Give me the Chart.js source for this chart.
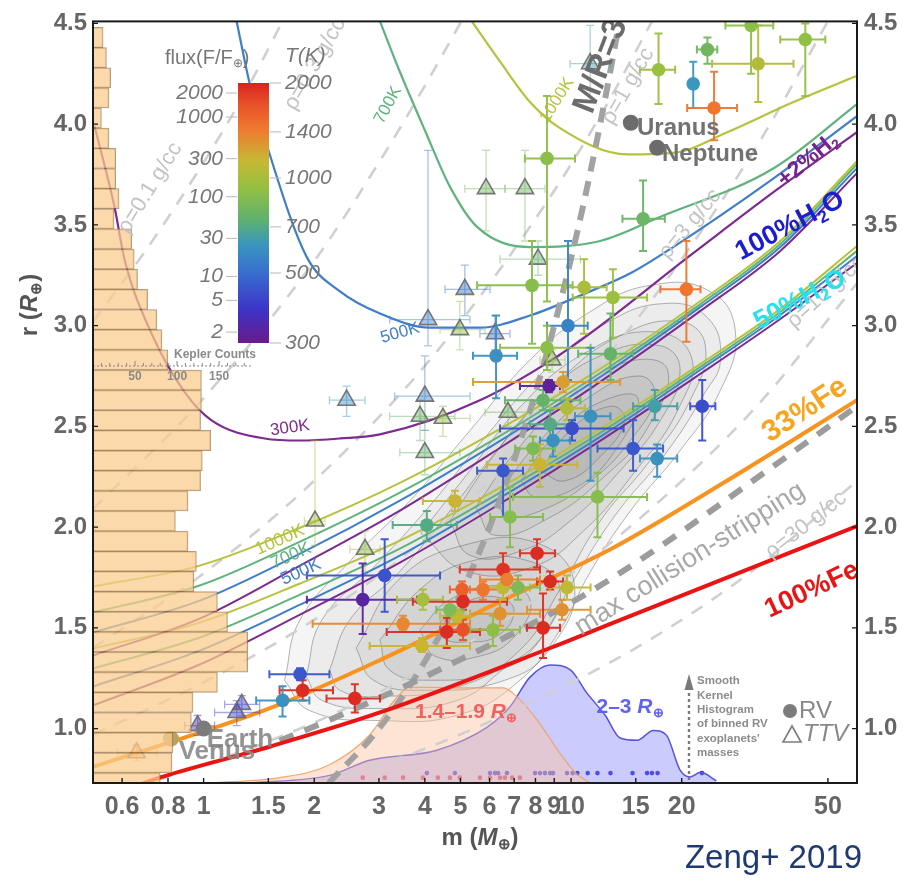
<!DOCTYPE html>
<html>
<head>
<meta charset="utf-8">
<title>Zeng+ 2019 mass-radius diagram</title>
<script src="https://cdn.jsdelivr.net/npm/chart.js@4.4.1/dist/chart.umd.min.js"></script>
<style>
  html, body { margin: 0; padding: 0; background: #fff; }
  canvas { display: block; }
</style>
</head>
<body>
<canvas id="mr" width="903" height="884"></canvas>
<script>
// ---- axes ----
const massTicks = [0.6, 0.8, 1, 1.5, 2, 3, 4, 5, 6, 7, 8, 9, 10, 15, 20, 50];
const radiusTicks = [1.0, 1.5, 2.0, 2.5, 3.0, 3.5, 4.0, 4.5];

// ---- Kepler radius histogram ----
const keplerBinR = [4.43, 4.33, 4.23, 4.13, 4.03, 3.93, 3.83, 3.73, 3.63, 3.53, 3.43, 3.33, 3.23, 3.13, 3.03, 2.93, 2.83, 2.73, 2.63, 2.53, 2.43, 2.33, 2.23, 2.13, 2.03, 1.93, 1.83, 1.73, 1.63, 1.53, 1.43, 1.33, 1.23, 1.13, 1.03, 0.93, 0.83, 0.73];
const keplerCounts = [12, 16, 21, 19, 10, 19, 27, 27, 31, 25, 46, 49, 53, 65, 76, 82, 89, 129, 129, 128, 140, 130, 128, 113, 98, 113, 123, 120, 148, 160, 184, 184, 148, 119, 117, 95, 94, 80];

// ---- rocky / iron curves, [mass, radius] ----
const fe100 = [[0.62, 0.70], [0.77, 0.76], [1.51, 0.91], [3.02, 1.08], [8.77, 1.40], [12.8, 1.52], [60, 2.005]];
const fe33 = [[0.5, 0.81], [1.51, 1.10], [3.02, 1.34], [6.41, 1.63], [12.8, 1.89], [27.1, 2.24], [60, 2.63]];
const stripping = [[1.61, 0.94], [2.25, 1.05], [4.13, 1.27], [10.8, 1.66], [18.0, 1.92], [30.7, 2.22], [60, 2.60]];
const massOverRadius3 = [[2.19, 0.73], [3, 1.0], [4, 1.333], [5, 1.667], [6, 2.0], [7.5, 2.5], [9, 3.0], [10.5, 3.5], [12, 4.0], [13.5, 4.5], [13.7, 4.57]];

// ---- constant density lines ----
const rho01 = [[0.5, 3.02], [0.7, 3.38], [1, 3.81], [1.3, 4.16], [1.65, 4.52]];
const rho03 = [[0.5, 2.09], [1, 2.64], [2, 3.32], [3, 3.81], [4, 4.19], [5.1, 4.53]];
const rho1 = [[0.5, 1.40], [1, 1.77], [2, 2.23], [4, 2.80], [8, 3.53], [12, 4.04], [16.6, 4.51]];
const rho3 = [[0.5, 0.97], [1, 1.23], [2, 1.54], [4, 1.94], [8, 2.45], [16, 3.09], [32, 3.89], [50, 4.51]];
const rho10 = [[0.75, 0.745], [1, 0.82], [2, 1.03], [4, 1.30], [8, 1.64], [16, 2.07], [32, 2.60], [60, 3.21]];
const rho30 = [[2.1, 0.73], [4, 0.90], [8, 1.14], [16, 1.43], [32, 1.80], [60, 2.23]];

// ---- H2 envelope curves (upper U shapes) ----
const env300 = [[0.505, 3.99], [0.572, 3.59], [0.609, 3.33], [0.722, 2.96], [0.888, 2.67], [1.051, 2.53], [1.466, 2.44], [1.83, 2.43], [2.35, 2.44], [3.02, 2.46], [5.65, 2.63], [9.75, 2.88], [21.5, 3.36], [36, 3.67], [60, 3.96]];
const env500 = [[1.23, 4.51], [1.335, 4.20], [1.513, 3.85], [1.909, 3.34], [2.35, 3.17], [3.02, 3.06], [4.13, 2.99], [5.65, 2.99], [7.73, 3.05], [10.6, 3.15], [14.5, 3.26], [18.96, 3.39], [35.5, 3.73], [60, 4.04]];
const env700 = [[3.02, 4.51], [3.42, 4.26], [4.0, 3.97], [4.68, 3.69], [5.55, 3.49], [7.73, 3.39], [12.0, 3.42], [17.5, 3.54], [35.5, 3.78], [60, 4.10]];
const env1000 = [[5.37, 4.51], [6.41, 4.31], [7.73, 4.11], [9.33, 3.98], [14.2, 3.85], [19.45, 3.86], [26.6, 3.96], [40.3, 4.11], [60, 4.24]];

// ---- water worlds ----
const h2oMass = [0.5, 0.975, 1.83, 3.42, 6.41, 12.0, 22.5, 37.1, 60];
const w100at1000 = [1.705, 1.809, 1.997, 2.220, 2.488, 2.785, 3.122, 3.420, 3.816];
const w100at700 = [1.576, 1.710, 1.928, 2.171, 2.453, 2.765, 3.107, 3.405, 3.801];
const w100at500 = [1.477, 1.635, 1.868, 2.131, 2.428, 2.745, 3.093, 3.390, 3.782];
const w100at300 = [1.363, 1.546, 1.809, 2.082, 2.394, 2.721, 3.073, 3.371, 3.757];
const w50at1000 = [1.397, 1.526, 1.720, 1.933, 2.196, 2.488, 2.810, 3.083, 3.395];
const w50at700 = [1.298, 1.452, 1.665, 1.893, 2.171, 2.468, 2.795, 3.068, 3.371];
const w50at500 = [1.209, 1.387, 1.615, 1.858, 2.146, 2.448, 2.781, 3.053, 3.346];
const w50at300 = [1.115, 1.318, 1.566, 1.824, 2.116, 2.428, 2.761, 3.033, 3.311];

// ---- kernel density contours of the planets (closed loops, outer to inner) ----
const contours = [
  [[1.66, 1.24], [1.83, 1.54], [2.50, 1.83], [3.64, 2.13], [5.31, 2.48], [7.73, 2.83], [11.3, 3.07], [16.4, 3.20], [23.9, 3.17], [28.0, 2.97], [25.5, 2.68], [19.8, 2.38], [14.5, 2.08], [11.3, 1.78], [9.33, 1.49], [7.26, 1.24], [4.98, 1.07], [3.02, 1.04], [1.94, 1.09], [1.66, 1.24]],
  [[1.9, 1.26], [2.1, 1.54], [2.9, 1.80], [4.1, 2.10], [5.8, 2.44], [8.5, 2.78], [12.4, 3.01], [18.0, 3.11], [23.5, 3.04], [25.5, 2.83], [23.0, 2.66], [18.0, 2.36], [13.2, 2.06], [10.2, 1.74], [8.2, 1.44], [6.7, 1.31], [4.9, 1.14], [3.0, 1.10], [2.1, 1.14], [1.9, 1.26]],
  [[2.20, 1.29], [2.50, 1.54], [3.42, 1.78], [4.68, 2.08], [6.41, 2.40], [9.33, 2.73], [13.6, 2.95], [19.8, 3.02], [23.2, 2.90], [21.1, 2.63], [16.4, 2.33], [12.0, 2.03], [9.33, 1.69], [7.26, 1.39], [4.98, 1.21], [3.02, 1.16], [2.35, 1.19], [2.20, 1.29]],
  [[3.9, 1.97], [5.2, 2.26], [7.3, 2.60], [10.8, 2.86], [16.5, 2.97], [21.2, 2.85], [19.5, 2.58], [15.0, 2.28], [10.8, 1.98], [7.8, 1.80], [5.2, 1.78], [3.9, 1.97]],
  [[4.68, 2.03], [6.02, 2.33], [8.23, 2.63], [12.0, 2.85], [17.5, 2.90], [19.8, 2.78], [17.5, 2.53], [13.6, 2.28], [9.94, 2.03], [7.26, 1.88], [5.31, 1.86], [4.68, 2.03]],
  [[5.5, 2.10], [7.1, 2.38], [9.8, 2.64], [14.2, 2.82], [18.3, 2.78], [16.0, 2.48], [12.3, 2.25], [8.8, 2.05], [6.2, 1.96], [5.5, 2.10]],
  [[6.41, 2.18], [8.23, 2.43], [11.3, 2.65], [15.4, 2.75], [16.9, 2.65], [14.5, 2.43], [11.3, 2.23], [8.23, 2.08], [6.61, 2.06], [6.41, 2.18]],
  [[7.3, 2.23], [9.0, 2.45], [12.0, 2.62], [15.2, 2.64], [13.3, 2.39], [10.4, 2.20], [8.0, 2.15], [7.3, 2.23]],
  [[8.23, 2.28], [9.94, 2.48], [12.8, 2.60], [14.0, 2.53], [12.0, 2.35], [9.63, 2.23], [8.23, 2.28]],
  [[2.6, 1.40], [3.4, 1.74], [5.1, 1.91], [8.1, 1.92], [10.2, 1.72], [8.8, 1.40], [6.6, 1.24], [4.0, 1.19], [2.9, 1.24], [2.6, 1.40]],
  [[3.02, 1.44], [3.88, 1.69], [5.31, 1.83], [7.73, 1.83], [9.33, 1.69], [8.23, 1.44], [6.41, 1.29], [4.13, 1.24], [3.21, 1.29], [3.02, 1.44]],
  [[3.88, 1.49], [4.68, 1.64], [6.41, 1.71], [7.73, 1.64], [7.04, 1.46], [5.65, 1.36], [4.26, 1.36], [3.88, 1.49]],
  [[4.4, 1.53], [5.2, 1.63], [6.4, 1.65], [7.0, 1.58], [6.3, 1.46], [5.2, 1.43], [4.5, 1.45], [4.4, 1.53]]
];

// ---- smooth kernel histograms of RV masses ----
const kdeSmallM = [1.04, 1.61, 2.20, 2.83, 3.31, 3.64, 4.98, 6.53, 6.95, 8.08, 9.33, 10.25, 11.27];
const kdeSmallD = [0, 0.007, 0.024, 0.063, 0.109, 0.126, 0.125, 0.125, 0.118, 0.083, 0.039, 0.014, 0];
const kdeLargeM = [1.34, 2.20, 2.83, 4.31, 5.90, 6.82, 7.73, 8.77, 9.94, 11.05, 12.38, 13.6, 15.13, 16.73, 18.16, 19.8, 21.1, 22.5, 24.85];
const kdeLargeD = [0, 0.010, 0.030, 0.043, 0.073, 0.100, 0.139, 0.155, 0.149, 0.118, 0.089, 0.059, 0.056, 0.069, 0.063, 0.017, 0.008, 0.014, 0.003];
const rugSmallM = [2.71, 3.11, 3.49, 3.95, 4.34, 4.68, 4.98, 5.65, 6.02, 6.41, 6.61, 6.91, 7.26];
const rugLargeM = [4.05, 4.83, 6.02, 6.21, 6.33, 6.69, 7.98, 8.23, 8.49, 8.77, 8.93, 9.75, 10.1, 10.4, 11.1, 11.8, 12.8, 14.7, 16.1, 16.6, 17.2, 22.7];

// ---- RV planets ----
const rvMass = [17.3, 23.5, 21.5, 24.5, 30.9, 32.3, 43.4, 8.60, 15.7, 7.83, 10.85, 13.0, 9.81, 6.25, 8.60, 12.8, 20.6, 8.71, 9.51, 8.39, 9.75, 11.3, 10.06, 8.77, 8.93, 7.88, 8.23, 6.53, 14.75, 16.9, 17.15, 22.75, 11.8, 6.82, 4.83, 4.05, 3.11, 2.71, 3.49, 3.95, 5.05, 5.76, 6.53, 8.08, 5.08, 4.59, 5.08, 6.13, 6.41, 6.53, 7.17, 8.77, 9.75, 9.45, 8.39, 3.93, 6.69, 1.83, 1.86, 1.64, 2.58, 4.89, 4.68];
const rvRadius = [4.27, 4.37, 4.20, 4.08, 4.49, 4.30, 4.42, 3.83, 3.53, 3.20, 3.19, 3.14, 3.00, 2.85, 2.89, 2.86, 3.18, 2.70, 2.72, 2.63, 2.59, 2.55, 2.49, 2.51, 2.43, 2.39, 2.31, 2.28, 2.39, 2.60, 2.34, 2.60, 2.15, 2.05, 2.13, 2.01, 1.76, 1.64, 1.52, 1.64, 1.69, 1.69, 1.79, 1.87, 1.63, 1.48, 1.49, 1.49, 1.57, 1.70, 1.70, 1.73, 1.70, 1.59, 1.50, 1.41, 1.74, 1.27, 1.19, 1.14, 1.15, 1.56, 1.59];
const rvMassLo = [15.4, 22.0, 20.9, 20.7, 26.3, 24.2, 37.1, 7.49, 13.8, 5.55, 9.63, 10.1, 8.60, 5.41, 6.41, 10.45, 17.5, 7.26, 5.41, 6.61, 8.77, 10.25, 6.41, 7.73, 8.23, 7.04, 5.90, 5.55, 11.8, 14.75, 15.4, 21.1, 6.95, 6.02, 3.95, 3.27, 1.91, 1.91, 1.98, 3.36, 4.68, 5.31, 4.98, 7.26, 3.71, 3.15, 4.40, 5.31, 5.31, 5.65, 6.41, 8.08, 8.77, 7.59, 7.59, 2.83, 5.65, 1.51, 1.61, 1.39, 2.16, 4.40, 4.30];
const rvMassHi = [19.2, 25.0, 22.0, 28.3, 35.5, 40.3, 49.2, 10.25, 18.0, 10.1, 12.5, 16.1, 11.1, 7.13, 11.3, 14.75, 22.5, 9.33, 13.6, 10.6, 10.9, 12.8, 13.9, 9.94, 9.94, 9.04, 10.4, 7.40, 17.8, 19.45, 19.45, 24.7, 16.1, 8.39, 5.65, 4.89, 4.40, 3.81, 5.31, 4.48, 5.65, 6.41, 8.23, 9.04, 6.69, 5.65, 6.02, 7.26, 8.23, 7.73, 8.23, 9.51, 11.3, 11.3, 9.33, 5.31, 8.23, 2.20, 2.25, 1.94, 3.02, 5.31, 5.10];
const rvRadiusLo = [4.10, 4.30, 4.08, 3.92, 4.25, 4.11, 4.14, 3.12, 3.37, 2.91, 2.96, 2.94, 2.73, 2.64, 2.78, 2.73, 2.92, 2.67, 2.67, 2.58, 2.53, 2.23, 2.43, 2.43, 2.35, 2.33, 2.20, 2.05, 2.28, 2.53, 2.25, 2.43, 1.95, 1.90, 2.08, 1.93, 1.58, 1.47, 1.49, 1.59, 1.64, 1.64, 1.71, 1.80, 1.59, 1.40, 1.44, 1.41, 1.51, 1.64, 1.64, 1.69, 1.64, 1.54, 1.35, 1.38, 1.70, 1.24, 1.14, 1.06, 1.08, 1.53, 1.56];
const rvRadiusHi = [4.45, 4.43, 4.31, 4.26, 4.60, 4.49, 4.50, 4.14, 3.72, 3.42, 3.33, 3.28, 3.42, 3.05, 3.00, 3.06, 3.42, 2.73, 2.77, 2.68, 2.64, 2.89, 2.53, 2.58, 2.50, 2.45, 2.41, 2.34, 2.53, 2.68, 2.41, 2.73, 2.27, 2.20, 2.18, 2.08, 1.94, 1.82, 1.56, 1.69, 1.73, 1.73, 1.87, 1.94, 1.66, 1.55, 1.54, 1.56, 1.64, 1.76, 1.76, 1.78, 1.76, 1.64, 1.67, 1.45, 1.78, 1.30, 1.24, 1.21, 1.22, 1.59, 1.61];
const rvTeq = [950, 800, 620, 1450, 900, 1050, 920, 900, 780, 880, 1020, 960, 560, 600, 900, 760, 1450, 320, 1250, 760, 1050, 600, 430, 700, 600, 850, 1150, 450, 450, 650, 600, 430, 880, 880, 1150, 700, 440, 330, 1350, 1000, 1600, 1450, 1900, 1950, 1950, 1950, 1700, 900, 1300, 1100, 850, 1950, 1100, 1300, 1950, 1150, 1400, 450, 1950, 600, 1950, 1100, 850];

// ---- TTV planets ----
const ttvMass = [11.27, 5.87, 7.49, 8.13, 5.14, 4.08, 4.98, 6.21, 4.00, 3.88, 4.48, 4.00, 6.73, 8.88, 2.45, 2.01, 2.75, 0.963, 1.23, 1.27, 0.657];
const ttvRadius = [4.30, 3.68, 3.68, 3.33, 3.18, 3.03, 2.98, 2.96, 2.65, 2.55, 2.54, 2.37, 2.57, 2.83, 2.63, 2.03, 1.89, 1.015, 1.08, 1.12, 0.88];
const ttvMassLo = [9.94, 5.14, 6.61, 6.41, 4.54, 3.21, 4.40, 5.65, 3.31, 3.21, 3.88, 3.42, 5.83, 8.23, 2.20, 1.88, 2.50, 0.888, 1.071, 1.141, 0.583];
const ttvMassHi = [12.78, 6.61, 8.49, 10.6, 6.02, 5.31, 5.83, 6.82, 5.31, 4.83, 5.31, 4.98, 7.73, 9.63, 2.75, 2.14, 3.02, 1.071, 1.421, 1.421, 0.745];
const ttvRadiusLo = [4.11, 3.47, 3.42, 3.25, 3.05, 2.90, 2.88, 2.88, 2.48, 2.43, 2.45, 2.26, 2.50, 2.77, 2.55, 1.91, 1.78, 0.966, 1.015, 1.065, 0.84];
const ttvRadiusHi = [4.49, 3.87, 3.87, 3.42, 3.30, 3.87, 3.12, 3.05, 2.85, 2.63, 2.60, 2.48, 2.63, 2.88, 2.70, 2.43, 1.98, 1.065, 1.139, 1.164, 0.92];
const ttvTeq = [650, 800, 800, 750, 500, 550, 900, 480, 550, 750, 900, 750, 800, 900, 600, 1000, 900, 350, 400, 400, 1300];

// ---- solar system ----
const solarNames = ['Venus', 'Earth', 'Uranus', 'Neptune'];
const solarMass = [0.815, 1.0, 14.54, 17.15];
const solarRadius = [0.95, 1.0, 4.007, 3.883];

// ---- colour bar legend ----
const fluxTicks = [2000, 1000, 300, 100, 30, 10, 5, 2];
const tempTicks = [300, 500, 700, 1000, 1400, 2000];

const FONT = "'Liberation Sans', Arial, Helvetica, sans-serif";
Chart.defaults.font.family = FONT;

const cmap = [
  [0.00, [106, 26, 138]], [0.13, [60, 52, 200]], [0.27, [56, 110, 205]], [0.38, [58, 150, 190]],
  [0.47, [92, 177, 112]], [0.60, [150, 192, 66]], [0.70, [198, 184, 52]], [0.82, [239, 122, 48]],
  [0.92, [232, 80, 40]], [1.00, [217, 35, 31]]
];
function rgbAt(f) {
  f = Math.max(0, Math.min(1, f));
  for (let i = 1; i < cmap.length; i++) {
    if (f <= cmap[i][0]) {
      const [f0, c0] = cmap[i - 1], [f1, c1] = cmap[i];
      const t = (f - f0) / (f1 - f0);
      return c0.map((v, k) => Math.round(v + (c1[k] - v) * t));
    }
  }
  return cmap[cmap.length - 1][1];
}
function tempColor(T, a) {
  const c = rgbAt(Math.log(T / 300) / Math.log(2000 / 300));
  return `rgba(${c[0]},${c[1]},${c[2]},${a === undefined ? 1 : a})`;
}

const pairs = arr => arr.map(p => ({x: p[0], y: p[1]}));
const zip = (ms, rs) => ms.map((m, i) => ({x: m, y: rs[i]}));

function curve(data, color, width, extra) {
  return Object.assign({
    type: 'line', data, borderColor: color, borderWidth: width, pointRadius: 0,
    fill: false, showLine: true, cubicInterpolationMode: 'monotone', order: 5
  }, extra || {});
}

const C300 = '#7d2b8f', C500 = '#3f7fca', C700 = '#5fb37c', C1000 = '#b7c23d';
const densityStyle = {borderDash: [13, 11], order: 7};

const datasets = [];

// contours
contours.forEach(c => datasets.push(curve(pairs(c), 'rgba(85,85,85,0.55)', 0.8, {
  fill: 'shape', backgroundColor: 'rgba(110,110,110,0.065)', cubicInterpolationMode: 'default', tension: 0.45, order: 9
})));

// density lines
[rho01, rho03, rho1, rho3, rho10, rho30].forEach(d => datasets.push(curve(pairs(d), '#d0d0d0', 2.6, densityStyle)));

// kernel histograms + rug
datasets.push(curve(zip(kdeSmallM, kdeSmallD), 'rgba(240,160,100,0.9)', 1.2, {yAxisID: 'yk', fill: 'origin', backgroundColor: 'rgba(252,196,160,0.45)', order: 8}));
datasets.push(curve(zip(kdeLargeM, kdeLargeD), '#5555e0', 1.5, {yAxisID: 'yk', fill: 'origin', backgroundColor: 'rgba(130,130,250,0.42)', order: 8}));
datasets.push({type: 'scatter', yAxisID: 'yk', data: rugSmallM.map(m => ({x: m, y: 0.007})), pointRadius: 2.3, backgroundColor: '#e83030', borderWidth: 0, order: 8});
datasets.push({type: 'scatter', yAxisID: 'yk', data: rugLargeM.map(m => ({x: m, y: 0.013})), pointRadius: 2.3, backgroundColor: '#2828e0', borderWidth: 0, order: 8});

// water worlds
[[w100at1000, C1000], [w100at700, C700], [w100at500, C500], [w100at300, C300],
 [w50at1000, C1000], [w50at700, C700], [w50at500, C500], [w50at300, C300]]
  .forEach(([r, c]) => datasets.push(curve(zip(h2oMass, r), c, 2)));

// envelopes
datasets.push(curve(pairs(env300), C300, 2.2));
datasets.push(curve(pairs(env500), C500, 2.2));
datasets.push(curve(pairs(env700), C700, 2.2));
datasets.push(curve(pairs(env1000), C1000, 2.2));

// iron / rock
datasets.push(curve(pairs(fe33), '#f7931e', 4, {order: 4}));
datasets.push(curve(pairs(fe100), '#ea1414', 4, {order: 4}));
datasets.push(curve(pairs(stripping), '#9c9c9c', 6, {borderDash: [15, 12], order: 4}));
datasets.push(curve(pairs(massOverRadius3), '#a2a2a2', 6, {borderDash: [15, 10], order: 4}));

// TTV
datasets.push({
  type: 'scatter', data: zip(ttvMass, ttvRadius), pointStyle: 'triangle', pointRadius: 10,
  backgroundColor: ttvTeq.map(t => tempColor(t, 0.45)), borderColor: 'rgba(105,105,105,0.9)', borderWidth: 1.6,
  errors: {lo: ttvMassLo, hi: ttvMassHi, rlo: ttvRadiusLo, rhi: ttvRadiusHi, t: ttvTeq, a: 0.45, w: 1.3}, order: 3
});
// RV
datasets.push({
  type: 'scatter', data: zip(rvMass, rvRadius), pointRadius: 6.8,
  backgroundColor: rvTeq.map(t => tempColor(t, 1)), borderWidth: 0,
  errors: {lo: rvMassLo, hi: rvMassHi, rlo: rvRadiusLo, rhi: rvRadiusHi, t: rvTeq, a: 0.95, w: 2}, order: 2
});
// solar system
datasets.push({
  type: 'scatter', data: zip(solarMass, solarRadius), pointRadius: 8,
  backgroundColor: ['#b9a162', '#7b7b7b', '#6c6c6c', '#6c6c6c'], borderWidth: 0, order: 1
});
// Kepler histogram
datasets.push({
  type: 'bar', indexAxis: 'y', xAxisID: 'xc', yAxisID: 'y',
  data: keplerBinR.map((r, i) => ({x: keplerCounts[i], y: r})),
  backgroundColor: 'rgba(251,204,140,0.74)', borderColor: 'rgba(140,105,60,0.65)', borderWidth: 1,
  barPercentage: 1, categoryPercentage: 1, grouped: false, order: 0
});

// ---- plugins ----
const errorBars = {
  id: 'errorBars',
  beforeDatasetDraw(chart, args) {
    const ds = chart.data.datasets[args.index];
    if (!ds.errors) return;
    const e = ds.errors, x = chart.scales.x, y = chart.scales.y, ctx = chart.ctx, a = chart.chartArea;
    ctx.save();
    ctx.beginPath(); ctx.rect(a.left, a.top, a.right - a.left, a.bottom - a.top); ctx.clip();
    ctx.lineWidth = e.w;
    ds.data.forEach((p, i) => {
      const px = x.getPixelForValue(p.x), py = y.getPixelForValue(p.y);
      const x0 = x.getPixelForValue(e.lo[i]), x1 = x.getPixelForValue(e.hi[i]);
      const y0 = y.getPixelForValue(e.rlo[i]), y1 = y.getPixelForValue(e.rhi[i]);
      ctx.strokeStyle = tempColor(e.t[i], e.a);
      const cap = 4;
      ctx.beginPath();
      ctx.moveTo(x0, py); ctx.lineTo(x1, py);
      ctx.moveTo(px, y0); ctx.lineTo(px, y1);
      ctx.moveTo(x0, py - cap); ctx.lineTo(x0, py + cap);
      ctx.moveTo(x1, py - cap); ctx.lineTo(x1, py + cap);
      ctx.moveTo(px - cap, y0); ctx.lineTo(px + cap, y0);
      ctx.moveTo(px - cap, y1); ctx.lineTo(px + cap, y1);
      ctx.stroke();
    });
    ctx.restore();
  }
};

function drawRich(ctx, segs, x, y, o) {
  const size = o.size || 20, weight = o.weight || 'normal', style = o.style || 'normal';
  ctx.save();
  ctx.translate(x, y);
  ctx.rotate((o.rot || 0) * Math.PI / 180);
  ctx.globalAlpha = o.alpha || 1;
  const parts = segs.map(s => typeof s === 'string' ? {t: s} : s);
  const fontFor = s => `${s.it ? 'italic' : style} ${weight} ${s.sub ? Math.round(size * 0.62) : size}px ${FONT}`;
  let total = 0;
  const widths = parts.map(s => { ctx.font = fontFor(s); const w = ctx.measureText(s.t).width; total += w; return w; });
  let cx = o.align === 'left' ? 0 : o.align === 'right' ? -total : -total / 2;
  ctx.fillStyle = o.color || '#666';
  ctx.textBaseline = 'middle';
  ctx.textAlign = 'left';
  parts.forEach((s, i) => {
    ctx.font = fontFor(s);
    ctx.fillText(s.t, cx, s.sub ? size * 0.3 : 0);
    cx += widths[i];
  });
  ctx.restore();
}

const GRAY_RHO = '#c4c4c4';
const plotLabels = [
  {s: ['ρ=0.1 g/cc'], x: 150, y: 188, rot: -58, size: 22, color: GRAY_RHO},
  {s: ['ρ=0.3 g/cc'], x: 315, y: 64, rot: -60, size: 22, color: GRAY_RHO},
  {s: ['ρ=1 g/cc'], x: 628, y: 86, rot: -60, size: 22, color: GRAY_RHO},
  {s: ['ρ=3 g/cc'], x: 690, y: 224, rot: -50, size: 22, color: GRAY_RHO},
  {s: ['ρ=10 g/cc'], x: 826, y: 292, rot: -42, size: 22, color: GRAY_RHO},
  {s: ['ρ=30 g/cc'], x: 806, y: 525, rot: -38, size: 22, color: GRAY_RHO},
  {s: ['M/R=3'], x: 601, y: 66, rot: -69, size: 33, weight: 'bold', color: '#6c6c6c'},
  {s: ['Uranus'], x: 637, y: 128, size: 24, weight: 'bold', color: '#727272', align: 'left'},
  {s: ['Neptune'], x: 662, y: 154, size: 24, weight: 'bold', color: '#727272', align: 'left'},
  {s: ['+2%H', {t: '2', sub: true}], x: 808, y: 160, rot: -40, size: 23, weight: 'bold', color: '#7a1f8e'},
  {s: ['100%H', {t: '2', sub: true}, 'O'], x: 790, y: 226, rot: -28, size: 27, weight: 'bold', color: '#1c1cd0'},
  {s: ['50%H', {t: '2', sub: true}, 'O'], x: 800, y: 300, rot: -28, size: 26, weight: 'bold', color: '#25e2ee'},
  {s: ['33%Fe'], x: 805, y: 410, rot: -33, size: 30, weight: 'bold', color: '#f7a51f'},
  {s: ['100%Fe'], x: 812, y: 590, rot: -25, size: 27, weight: 'bold', color: '#ea1414'},
  {s: ['max collision-stripping'], x: 690, y: 559, rot: -32, size: 27, color: '#a8a8a8'},
  {s: ['1000K'], x: 557, y: 100, rot: -58, size: 17, color: C1000},
  {s: ['700K'], x: 388, y: 105, rot: -62, size: 17, color: C700},
  {s: ['500K'], x: 400, y: 333, rot: -16, size: 17, color: C500},
  {s: ['300K'], x: 290, y: 428, rot: -8, size: 17, color: C300},
  {s: ['1000K'], x: 280, y: 540, rot: -24, size: 18, color: C1000},
  {s: ['700K'], x: 291, y: 556, rot: -24, size: 18, color: C700},
  {s: ['500K'], x: 301, y: 572, rot: -24, size: 18, color: C500},
  {s: ['Venus'], x: 217, y: 752, size: 26, weight: 'bold', color: '#8a8a8a', alpha: 0.9},
  {s: ['Earth'], x: 240, y: 740, size: 26, weight: 'bold', color: '#808080', alpha: 0.85},
  {s: ['1.4–1.9 ', {t: 'R', it: true}, {t: '⊕', sub: true}], x: 466, y: 712, size: 21, weight: 'bold', color: '#f06262'},
  {s: ['2–3 ', {t: 'R', it: true}, {t: '⊕', sub: true}], x: 630, y: 707, size: 21, weight: 'bold', color: '#6262f0'}
];
const kernelNote = ['Smooth', 'Kernel', 'Histogram', 'of binned RV', "exoplanets'", 'masses'];

const decor = {
  id: 'decor',
  afterDatasetsDraw(chart) {
    const ctx = chart.ctx, a = chart.chartArea, xs = chart.scales.x, ys = chart.scales.y;

    // labels on the plot, clipped to the frame
    ctx.save();
    ctx.beginPath(); ctx.rect(a.left, a.top, a.right - a.left, a.bottom - a.top); ctx.clip();
    plotLabels.forEach(l => drawRich(ctx, l.s, l.x, l.y, l));
    ctx.restore();

    // kernel histogram note with dashed arrow
    ctx.save();
    ctx.strokeStyle = '#7a7a7a'; ctx.lineWidth = 2.4; ctx.setLineDash([3, 3]);
    ctx.beginPath(); ctx.moveTo(689, a.bottom - 3); ctx.lineTo(689, 688); ctx.stroke();
    ctx.setLineDash([]); ctx.fillStyle = '#7a7a7a';
    ctx.beginPath(); ctx.moveTo(689, 674); ctx.lineTo(684.5, 690); ctx.lineTo(693.5, 690); ctx.closePath(); ctx.fill();
    ctx.font = `bold 11.5px ${FONT}`; ctx.fillStyle = '#8c8c8c'; ctx.textBaseline = 'middle';
    kernelNote.forEach((t, i) => ctx.fillText(t, 697, 681 + i * 14.4));
    ctx.restore();

    // RV / TTV legend
    ctx.save();
    ctx.fillStyle = '#7c7c7c';
    ctx.beginPath(); ctx.arc(790, 711, 7, 0, Math.PI * 2); ctx.fill();
    ctx.strokeStyle = '#7c7c7c'; ctx.lineWidth = 1.6;
    ctx.beginPath(); ctx.moveTo(792, 726); ctx.lineTo(783, 742); ctx.lineTo(801, 742); ctx.closePath(); ctx.stroke();
    ctx.restore();
    drawRich(ctx, ['RV'], 799, 711, {size: 24, color: '#888', align: 'left'});
    drawRich(ctx, ['TTV'], 803, 734, {size: 24, color: '#888', align: 'left', style: 'italic'});

    // colour bar
    const cb = {l: 238, r: 269, t: 83, b: 343};
    const g = ctx.createLinearGradient(0, cb.b, 0, cb.t);
    cmap.forEach(([f, c]) => g.addColorStop(f, `rgb(${c[0]},${c[1]},${c[2]})`));
    ctx.save();
    ctx.fillStyle = g; ctx.fillRect(cb.l, cb.t, cb.r - cb.l, cb.b - cb.t);
    ctx.strokeStyle = '#b8b8b8'; ctx.lineWidth = 1;
    ctx.font = `italic 21px ${FONT}`; ctx.fillStyle = '#777'; ctx.textBaseline = 'middle';
    ctx.textAlign = 'right';
    fluxTicks.forEach(f => {
      const yy = 93 + 79.7 * Math.log10(2000 / f);
      ctx.beginPath(); ctx.moveTo(226, yy); ctx.lineTo(237, yy); ctx.stroke();
      ctx.fillText(String(f), 223, yy);
    });
    ctx.textAlign = 'left';
    tempTicks.forEach(T => {
      const yy = cb.t + (cb.b - cb.t) * Math.log10(2000 / T) / Math.log10(2000 / 300);
      ctx.beginPath(); ctx.moveTo(270, yy); ctx.lineTo(281, yy); ctx.stroke();
      ctx.fillText(String(T), 285, yy);
    });
    ctx.restore();
    drawRich(ctx, ['flux(F/F', {t: '⊕', sub: true}, ')'], 165, 58, {size: 20, color: '#777', align: 'left'});
    drawRich(ctx, ['T(K)'], 285, 56, {size: 21, color: '#777', align: 'left', style: 'italic'});

    // Kepler counts mini axis
    const xc = chart.scales.xc;
    ctx.save();
    ctx.strokeStyle = '#888'; ctx.lineWidth = 1;
    ctx.setLineDash([2, 2]);
    ctx.beginPath(); ctx.moveTo(a.left, 366); ctx.lineTo(xc.getPixelForValue(190), 366); ctx.stroke();
    ctx.setLineDash([]);
    for (let v = 10; v <= 180; v += 10) {
      const px = xc.getPixelForValue(v);
      ctx.beginPath(); ctx.moveTo(px, 366); ctx.lineTo(px, v % 50 === 0 ? 361 : 363); ctx.stroke();
    }
    ctx.font = `bold 12px ${FONT}`; ctx.fillStyle = '#8a8a8a'; ctx.textAlign = 'center'; ctx.textBaseline = 'middle';
    [50, 100, 150].forEach(v => ctx.fillText(String(v), xc.getPixelForValue(v), 377));
    ctx.fillText('Kepler Counts', 215, 355);
    ctx.restore();

    // frame and inward ticks
    ctx.save();
    ctx.strokeStyle = '#1a1a1a'; ctx.lineWidth = 2;
    ctx.strokeRect(a.left, a.top, a.right - a.left, a.bottom - a.top);
    ctx.lineWidth = 1.4;
    ctx.beginPath();
    massTicks.forEach(m => { const px = xs.getPixelForValue(m); ctx.moveTo(px, a.bottom); ctx.lineTo(px, a.bottom - 5); });
    radiusTicks.forEach(r => {
      const py = ys.getPixelForValue(r);
      ctx.moveTo(a.left, py); ctx.lineTo(a.left + 5, py);
      ctx.moveTo(a.right, py); ctx.lineTo(a.right - 5, py);
    });
    ctx.stroke();
    ctx.restore();
  },
  afterDraw(chart) {
    const ctx = chart.ctx;
    ctx.save();
    ctx.translate(30, 305); ctx.rotate(-Math.PI / 2);
    drawRich(ctx, ['r (', {t: 'R', it: true}, {t: '⊕', sub: true}, ')'], 0, 0, {size: 24, weight: 'bold', color: '#555'});
    ctx.restore();
    drawRich(ctx, ['m (', {t: 'M', it: true}, {t: '⊕', sub: true}, ')'], 480, 838, {size: 24, weight: 'bold', color: '#555'});
    drawRich(ctx, ['Zeng+ 2019'], 862, 859, {size: 33, color: '#1f3a70', align: 'right'});
  }
};

const tickFont = {family: FONT, weight: 'bold'};
new Chart(document.getElementById('mr'), {
  type: 'scatter',
  data: {datasets},
  options: {
    responsive: false,
    animation: false,
    events: [],
    layout: {padding: {top: 20, left: 0, right: 0, bottom: 0}},
    plugins: {legend: {display: false}, tooltip: {enabled: false}},
    scales: {
      x: {
        type: 'logarithmic', min: 0.5, max: 60, position: 'bottom', offset: false,
        grid: {display: false, drawTicks: false, offset: false}, border: {display: false},
        afterBuildTicks: s => { s.ticks = massTicks.map(v => ({value: v})); },
        afterFit: s => { s.height = 101; },
        ticks: {autoSkip: false, maxRotation: 0, padding: 9, color: '#666', font: Object.assign({size: 25}, tickFont), callback: v => String(v)}
      },
      y: {
        type: 'linear', min: 0.73, max: 4.51, position: 'left', offset: false,
        grid: {display: false, drawTicks: false, offset: false}, border: {display: false},
        afterBuildTicks: s => { s.ticks = radiusTicks.map(v => ({value: v})); },
        afterFit: s => { s.width = 93; },
        ticks: {padding: 6, color: '#666', font: Object.assign({size: 24}, tickFont), callback: v => Number(v).toFixed(1)}
      },
      y2: {
        type: 'linear', min: 0.73, max: 4.51, position: 'right', offset: false,
        grid: {display: false, drawTicks: false}, border: {display: false},
        afterBuildTicks: s => { s.ticks = radiusTicks.map(v => ({value: v})); },
        afterFit: s => { s.width = 46; },
        ticks: {padding: 7, color: '#666', font: Object.assign({size: 24}, tickFont), callback: v => Number(v).toFixed(1)}
      },
      xc: {type: 'linear', display: false, min: 0, max: 909, offset: false},
      yk: {type: 'linear', display: false, min: 0, max: 1, offset: false}
    }
  },
  plugins: [errorBars, decor]
});
</script>
</body>
</html>
